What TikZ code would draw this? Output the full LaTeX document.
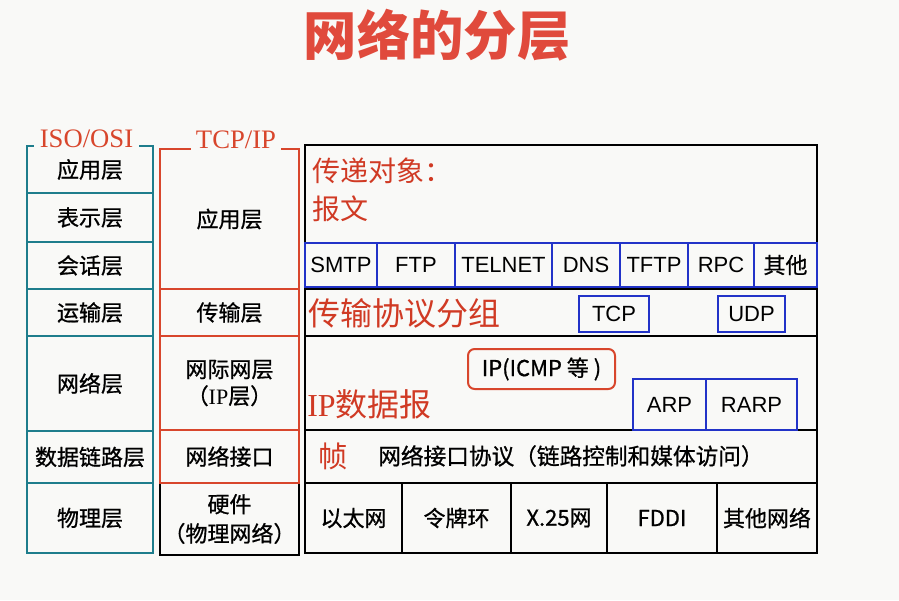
\documentclass[tikz,border=0pt]{standalone}
\usepackage{fontspec}
\setmainfont{Liberation Serif}
\setsansfont{Liberation Sans}
\newfontfamily\cjk{Noto Sans CJK SC}
\newfontfamily\cjkmid{Noto Sans CJK SC}[FakeBold=0.8]
\usepackage{tikz}
\usetikzlibrary{positioning}
\definecolor{ositeal}{HTML}{1E7D8C}
\definecolor{tcpred}{HTML}{D8462C}
\definecolor{protoblue}{HTML}{2233C8}
\definecolor{textred}{HTML}{D03A24}
\definecolor{titlered}{HTML}{E04A3C}
\definecolor{paper}{HTML}{F9F9F7}
\newdimen\px \px=0.75pt

\begin{document}
\begin{tikzpicture}[
  x=0.75pt, y=-0.75pt,
  osi/.style={rectangle, draw=ositeal, line width=2.2pt, minimum width=126\px, outer sep=0pt, inner sep=0pt, font=\cjkmid\fontsize{16.5}{20}\selectfont},
  tcp/.style={rectangle, draw=tcpred, line width=1.8pt, minimum width=139\px, outer sep=0pt, inner sep=0pt, align=center, font=\cjkmid\fontsize{16.5}{20}\selectfont},
  hwcell/.style={tcp, draw=black, line width=1.5pt, font=\cjkmid\fontsize{16.5}{22}\selectfont},
  band/.style={rectangle, draw=black, line width=1.5pt, minimum width=512\px, outer sep=0pt, inner sep=0pt},
  phys/.style={rectangle, draw=black, line width=1.5pt, minimum height=70\px, outer sep=0pt, inner sep=0pt, font=\cjkmid\fontsize{16.5}{20}\selectfont},
  proto/.style={rectangle, draw=protoblue, line width=2.2pt, outer sep=0pt, inner sep=0pt, font=\sffamily\fontsize{16.5}{20}\selectfont},
  hdr/.style={fill=paper, inner xsep=4pt, inner ysep=1pt, text=tcpred, font=\fontsize{20}{22}\selectfont},
  redtxt/.style={anchor=west, inner sep=0pt, text=textred, font=\cjk\fontsize{21}{24}\selectfont}
]
\useasboundingbox[fill=paper] (0,0) rectangle (899,600);

\node[text=titlered, font=\cjk\bfseries\fontsize{40}{44}\selectfont] (title) at (437,35) {网络的分层};

% ISO/OSI column
\node[osi, anchor=north, minimum height=47\px] (osiApp) at (90,146) {应用层};
\node[osi, below=0pt of osiApp, minimum height=49\px] (osiPres) {表示层};
\node[osi, below=0pt of osiPres, minimum height=47\px] (osiSess) {会话层};
\node[osi, below=0pt of osiSess, minimum height=47\px] (osiTrans) {运输层};
\node[osi, below=0pt of osiTrans, minimum height=95\px] (osiNet) {网络层};
\node[osi, below=0pt of osiNet, minimum height=52\px] (osiLink) {数据链路层};
\node[osi, below=0pt of osiLink, minimum height=70\px] (osiPhys) {物理层};
\node[hdr] (osiHdr) at (86.5,139) {ISO/OSI};

% TCP/IP column
\node[hwcell, anchor=north, minimum height=72\px] (tcpHw) at (229.5,483) {硬件\\（物理网络）};
\node[tcp, anchor=north, minimum height=140\px] (tcpApp) at (229.5,149) {应用层};
\node[tcp, below=0pt of tcpApp, minimum height=47\px] (tcpTrans) {传输层};
\node[tcp, below=0pt of tcpTrans, minimum height=94\px] (tcpNet) {网际网层\\（{\rmfamily IP}层）};
\node[tcp, below=0pt of tcpNet, minimum height=53\px] (tcpLink) {网络接口};
\node[hdr] (tcpHdr) at (236,140) {TCP/IP};

% protocol bands
\node[band, anchor=north, minimum height=144\px] (bandApp) at (561,145) {};
\node[band, below=0pt of bandApp, minimum height=47\px] (bandTrans) {};
\node[band, below=0pt of bandTrans, minimum height=94\px] (bandNet) {};
\node[band, below=0pt of bandNet, minimum height=53\px] (bandLink) {};

\node[phys, anchor=north west, minimum width=97\px] (ether) at (bandLink.south west) {以太网};
\node[phys, right=0pt of ether, minimum width=109\px] (token) {令牌环};
\node[phys, right=0pt of token, minimum width=96\px] (xnet) {X.25网};
\node[phys, right=0pt of xnet, minimum width=110\px] (fddi) {FDDI};
\node[phys, right=0pt of fddi, minimum width=100\px] (othernet) {其他网络};

% application band
\node[redtxt] (objLbl) at (312,171) {传递对象：};
\node[redtxt] (msgLbl) at (312,209) {报文};
\node[proto, anchor=south west, minimum width=72\px, minimum height=44\px] (smtp) at (305,287) {SMTP};
\node[proto, right=0pt of smtp, minimum width=78\px, minimum height=44\px] (ftp) {FTP};
\node[proto, right=0pt of ftp, minimum width=97\px, minimum height=44\px] (telnet) {TELNET};
\node[proto, right=0pt of telnet, minimum width=68\px, minimum height=44\px] (dns) {DNS};
\node[proto, right=0pt of dns, minimum width=68\px, minimum height=44\px] (tftp) {TFTP};
\node[proto, right=0pt of tftp, minimum width=66\px, minimum height=44\px] (rpc) {RPC};
\node[proto, right=0pt of rpc, minimum width=63\px, minimum height=44\px, font=\cjkmid\fontsize{16.5}{20}\selectfont] (otherproto) {其他};

% transport band
\node[redtxt, font=\cjk\fontsize{24}{26}\selectfont] (segLbl) at (308,313) {传输协议分组};
\node[proto, minimum width=70\px, minimum height=36\px] (tcpbox) at (614,314) {TCP};
\node[proto, minimum width=67\px, minimum height=36\px] (udpbox) at (751.5,314) {UDP};

% internet band
\node[proto, draw=tcpred, line width=1.5pt, rounded corners=5pt, minimum width=147\px, minimum height=40\px, font=\cjkmid\fontsize{16.5}{20}\selectfont] (ipbox) at (541.5,369) {IP(ICMP 等 )};
\node[redtxt, font=\cjk\fontsize{24}{26}\selectfont] (dgramLbl) at (307,404) {\rmfamily IP\cjk 数据报};
\node[proto, anchor=south west, minimum width=73\px, minimum height=51\px] (arp) at (633,430) {ARP};
\node[proto, right=0pt of arp, minimum width=91\px, minimum height=51\px] (rarp) {RARP};

% network interface band
\node[redtxt, font=\cjk\fontsize{22}{24}\selectfont] (frameLbl) at (318,456) {帧};
\node[anchor=west, inner sep=0pt, font=\cjkmid\fontsize{17}{20}\selectfont] (nicLbl) at (378,456) {网络接口协议（链路控制和媒体访问）};
\end{tikzpicture}
\end{document}
